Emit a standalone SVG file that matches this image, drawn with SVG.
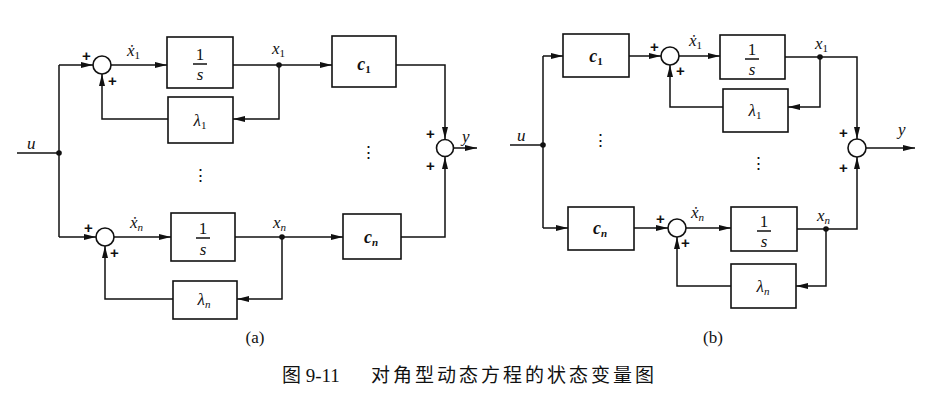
<svg xmlns="http://www.w3.org/2000/svg" width="930" height="407" viewBox="0 0 930 407">
<style>
.blk{fill:#fff;stroke:#111;stroke-width:1.6}
.ln{fill:none;stroke:#111;stroke-width:1.5}
.ar{fill:none;stroke:#111;stroke-width:1.5;marker-end:url(#ah)}
.sum{fill:#fff;stroke:#111;stroke-width:1.6}
.dot{fill:#111}
.v{font-family:"Liberation Serif",serif;font-style:italic;font-size:17px;fill:#111}
.vb{font-family:"Liberation Serif",serif;font-style:italic;font-weight:bold;font-size:18px;fill:#111}
.n{font-family:"Liberation Serif",serif;font-size:17px;fill:#111}
.p{font-family:"Liberation Sans",sans-serif;font-size:15px;font-weight:bold;fill:#111}
.cap{font-family:"Liberation Serif","Noto Sans CJK SC",serif;font-size:19px;fill:#111}
.sub{font-size:11px}
.s1{font-size:11px;font-style:normal}
</style>
<defs>
<marker id="ah" markerUnits="userSpaceOnUse" markerWidth="13" markerHeight="8" refX="12" refY="4" orient="auto">
<path d="M0,1 L12,4 L0,7 Z" fill="#111"/>
</marker>
</defs>

<g id="connectors">
<!-- (a) -->
<path class="ln" d="M17,153 H59"/>
<path class="ln" d="M59,65 V237"/>
<path class="ar" d="M59,65 H93"/>
<path class="ar" d="M111,65 H167"/>
<path class="ar" d="M233,65 H332"/>
<path class="ar" d="M396,65 H445 V139"/>
<path class="ar" d="M279,65 V119 H233"/>
<path class="ar" d="M168,119 H102 V74"/>
<path class="ar" d="M59,237 H96"/>
<path class="ar" d="M114,237 H171"/>
<path class="ar" d="M235,237 H343"/>
<path class="ar" d="M401,237 H445 V157"/>
<path class="ar" d="M282,237 V299 H237"/>
<path class="ar" d="M173,299 H105 V246"/>
<path class="ar" d="M454,148 H477"/>
<!-- (b) -->
<path class="ln" d="M510,145 H543"/>
<path class="ln" d="M543,56 V228"/>
<path class="ar" d="M543,56 H563"/>
<path class="ar" d="M629,56 H661"/>
<path class="ar" d="M679,56 H720"/>
<path class="ar" d="M785,57 H857 V139"/>
<path class="ar" d="M820,57 V107 H788"/>
<path class="ar" d="M723,107 H670 V65"/>
<path class="ar" d="M543,228 H568"/>
<path class="ar" d="M634,228 H668"/>
<path class="ar" d="M686,228 H731"/>
<path class="ar" d="M797,229 H857 V157"/>
<path class="ar" d="M826,229 V286 H796"/>
<path class="ar" d="M731,286 H677 V237"/>
<path class="ar" d="M866,148 H915"/>
<!-- junction dots -->
<circle class="dot" cx="59" cy="153" r="2.8"/>
<circle class="dot" cx="279" cy="65" r="2.8"/>
<circle class="dot" cx="282" cy="237" r="2.8"/>
<circle class="dot" cx="543" cy="145" r="2.8"/>
<circle class="dot" cx="820" cy="57" r="2.8"/>
<circle class="dot" cx="826" cy="229" r="2.8"/>
</g>

<!-- (a) nodes -->
<g id="a-sum1"><circle class="sum" cx="102" cy="65" r="9"/><text class="p" x="82" y="61">+</text><text class="p" x="108" y="86">+</text></g>
<g id="a-int1"><rect class="blk" x="167" y="37" width="66" height="51"/><text class="n" x="200" y="60" text-anchor="middle">1</text><path class="ln" d="M193,64 H207"/><text class="v" x="200" y="80" text-anchor="middle">s</text></g>
<g id="a-c1"><rect class="blk" x="332" y="36" width="64" height="51"/><text class="vb" x="364" y="70" text-anchor="middle">c<tspan class="s1" dy="3">1</tspan></text></g>
<g id="a-l1"><rect class="blk" x="168" y="97" width="65" height="46"/><text class="v" x="200" y="126" text-anchor="middle">λ<tspan class="s1" dy="3">1</tspan></text></g>
<g id="a-sumn"><circle class="sum" cx="105" cy="237" r="9"/><text class="p" x="84" y="233">+</text><text class="p" x="110" y="258">+</text></g>
<g id="a-intn"><rect class="blk" x="171" y="213" width="64" height="48"/><text class="n" x="203" y="234" text-anchor="middle">1</text><path class="ln" d="M196,238 H210"/><text class="v" x="203" y="255" text-anchor="middle">s</text></g>
<g id="a-cn"><rect class="blk" x="343" y="214" width="58" height="45"/><text class="vb" x="371" y="243" text-anchor="middle">c<tspan class="sub" dy="3">n</tspan></text></g>
<g id="a-ln"><rect class="blk" x="173" y="281" width="64" height="38"/><text class="v" x="204" y="305" text-anchor="middle">λ<tspan class="sub" dy="3">n</tspan></text></g>
<g id="a-sumy"><circle class="sum" cx="445" cy="148" r="8.5"/><text class="p" x="426" y="139">+</text><text class="p" x="426" y="171">+</text></g>
<g id="a-labels">
<text class="v" x="27" y="149">u</text>
<text class="v" x="127" y="56">ẋ<tspan class="s1" dy="3">1</tspan></text>
<text class="v" x="272" y="54">x<tspan class="s1" dy="3">1</tspan></text>
<text class="v" x="130" y="228">ẋ<tspan class="sub" dy="3">n</tspan></text>
<text class="v" x="273" y="228">x<tspan class="sub" dy="3">n</tspan></text>
<text class="v" x="462" y="142">y</text>
<text class="n" x="200" y="181" text-anchor="middle">⋮</text>
<text class="n" x="368" y="158" text-anchor="middle">⋮</text>
<text class="n" x="255" y="343" text-anchor="middle">(a)</text>
</g>

<!-- (b) nodes -->
<g id="b-c1"><rect class="blk" x="563" y="34" width="66" height="43"/><text class="vb" x="596" y="62" text-anchor="middle">c<tspan class="s1" dy="3">1</tspan></text></g>
<g id="b-sum1"><circle class="sum" cx="670" cy="56" r="9"/><text class="p" x="650" y="52">+</text><text class="p" x="676" y="76">+</text></g>
<g id="b-int1"><rect class="blk" x="720" y="35" width="65" height="44"/><text class="n" x="752" y="55" text-anchor="middle">1</text><path class="ln" d="M745,59 H759"/><text class="v" x="752" y="75" text-anchor="middle">s</text></g>
<g id="b-l1"><rect class="blk" x="723" y="89" width="65" height="43"/><text class="v" x="755" y="116" text-anchor="middle">λ<tspan class="s1" dy="3">1</tspan></text></g>
<g id="b-cn"><rect class="blk" x="568" y="207" width="66" height="43"/><text class="vb" x="600" y="234" text-anchor="middle">c<tspan class="sub" dy="3">n</tspan></text></g>
<g id="b-sumn"><circle class="sum" cx="677" cy="228" r="9"/><text class="p" x="656" y="224">+</text><text class="p" x="681" y="248">+</text></g>
<g id="b-intn"><rect class="blk" x="731" y="207" width="66" height="44"/><text class="n" x="764" y="227" text-anchor="middle">1</text><path class="ln" d="M757,231 H771"/><text class="v" x="764" y="247" text-anchor="middle">s</text></g>
<g id="b-ln"><rect class="blk" x="731" y="264" width="65" height="44"/><text class="v" x="763" y="292" text-anchor="middle">λ<tspan class="sub" dy="3">n</tspan></text></g>
<g id="b-sumy"><circle class="sum" cx="857" cy="148" r="9"/><text class="p" x="839" y="138">+</text><text class="p" x="839" y="173">+</text></g>
<g id="b-labels">
<text class="v" x="517" y="141">u</text>
<text class="v" x="689" y="46">ẋ<tspan class="s1" dy="3">1</tspan></text>
<text class="v" x="815" y="49">x<tspan class="s1" dy="3">1</tspan></text>
<text class="v" x="691" y="218">ẋ<tspan class="sub" dy="3">n</tspan></text>
<text class="v" x="817" y="221">x<tspan class="sub" dy="3">n</tspan></text>
<text class="v" x="898" y="135">y</text>
<text class="n" x="600" y="146" text-anchor="middle">⋮</text>
<text class="n" x="758" y="169" text-anchor="middle">⋮</text>
<text class="n" x="713" y="343" text-anchor="middle">(b)</text>
</g>

<g id="caption">
<text class="cap" x="282" y="382">图 9-11</text>
<text class="cap" x="371" y="382" letter-spacing="3">对角型动态方程的状态变量图</text>
</g>
</svg>
